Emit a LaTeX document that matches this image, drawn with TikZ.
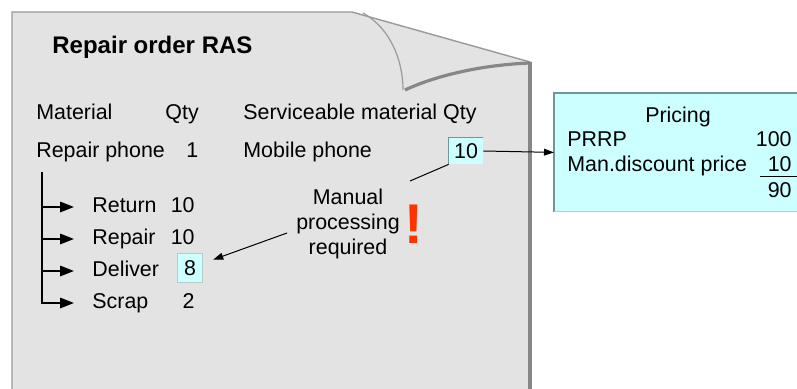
\documentclass[tikz,border=0pt]{standalone}
\usepackage{fontspec}
\setmainfont{Liberation Sans}
\usetikzlibrary{arrows.meta}
\definecolor{pagefill}{HTML}{E3E3E3}
\definecolor{pageedge}{HTML}{9A9A9A}
\definecolor{pageshadow}{HTML}{878787}
\definecolor{cyanfill}{HTML}{CCFFFF}
\definecolor{cyanedge}{HTML}{6F9797}
\definecolor{alertred}{HTML}{FF3300}
\begin{document}
\begin{tikzpicture}[x=0.5pt,y=-0.5pt,
  txt/.style={font=\fontsize{10.7}{12.5}\selectfont, inner sep=0pt, anchor=base west},
  rtxt/.style={txt, anchor=base east},
  ttl/.style={font=\fontsize{12}{14}\selectfont\bfseries, inner sep=0pt, anchor=base west},
  qbox/.style={fill=cyanfill, font=\fontsize{10.7}{12.5}\selectfont, inner sep=0pt},
  treearrow/.style={line width=1pt, -{Triangle[length=7pt,width=5.2pt]}},
  thinarrow/.style={line width=0.5pt, -{Triangle[length=5pt,width=3.4pt]}},
  thinline/.style={line width=0.5pt}]
\clip (0,0) rectangle (797,389);
\fill[white] (0,0) rectangle (797,389);
% page with folded corner
\filldraw[fill=pagefill, draw=pageedge, line width=0.7pt]
  (12,400) -- (12,12) -- (352,12) -- (530,62) -- (530,400);
\draw[pageshadow, line width=1.6pt] (530,62) -- (530,400);
\draw[pageedge, line width=0.6pt] (363,13) .. controls (390,28) and (403,60) .. (403,90);
\draw[pageshadow, line width=1.6pt] (405,90) .. controls (435,76) and (480,65) .. (530,63);

% title and headers
\node[ttl] (title) at (52,54) {Repair order RAS};
\node[txt] (matl) at (36,120) {Material};
\node[txt] (qtyh) at (165,120) {Qty};
\node[txt] (servh) at (243,120) {Serviceable material Qty};
\node[txt] (rphone) at (36,158) {Repair phone};
\node[txt] (rqty) at (186,158) {1};
\node[txt] (mphone) at (243,158) {Mobile phone};
\node[qbox, minimum width=17pt, minimum height=13pt] (box10) at (466,151) {10};
\draw[cyanedge, line width=0.8pt] (box10.south west) -- (box10.north west) -- (box10.north east);

% tree
\coordinate (treetop) at (42,172);
\coordinate (t1) at (42,207);
\coordinate (t2) at (42,239);
\coordinate (t3) at (42,271);
\coordinate (a1) at (74,207);
\coordinate (a2) at (74,239);
\coordinate (a3) at (74,271);
\coordinate (a4) at (74,303);
\draw[treearrow] (treetop) |- (a4);
\draw[treearrow] (t1) -- (a1);
\draw[treearrow] (t2) -- (a2);
\draw[treearrow] (t3) -- (a3);

\node[txt] (ret) at (92,213) {Return};
\node[rtxt] (retq) at (195,213) {10};
\node[txt] (rep) at (92,245) {Repair};
\node[rtxt] (repq) at (195,245) {10};
\node[txt] (del) at (92,277) {Deliver};
\node[qbox, minimum width=12.5pt, minimum height=14pt] (delbox) at (190,268) {8};
\draw[cyanedge!50, line width=0.5pt] (delbox.south west) rectangle (delbox.north east);
\node[txt] (scr) at (92,309) {Scrap};
\node[rtxt] (scrq) at (195,309) {2};

% manual processing note
\node[font=\fontsize{10.7}{12.5}\selectfont, align=center, inner sep=0pt] (manual) at (348,224)
  {Manual\\processing\\required};
\node[font=\fontsize{28}{30}\selectfont\bfseries, text=alertred, inner sep=0pt] (bang) at (414,224) {!};
\coordinate (c1) at (410,181);
\coordinate (c2) at (287,233);
\draw[thinline] (box10.south west) -- (c1);
\draw[thinarrow, shorten >=5.5pt] (c2) -- (delbox);

% pricing box
\node[fill=cyanfill, anchor=north west, minimum width=125pt, minimum height=59pt, inner sep=0pt] (pricing) at (554,93) {};
\draw[cyanedge, line width=0.8pt] (pricing.south west) -- (pricing.north west) -- (pricing.north east);
\draw[gray!45, line width=0.6pt] (pricing.south west) -- (pricing.south east);
\node[txt, anchor=base] (prtitle) at (678,123) {Pricing};
\node[txt] (prrp) at (567,147) {PRRP};
\node[rtxt] (prrpv) at (792,147) {100};
\node[txt] (mdp) at (567,172) {Man.discount price};
\node[rtxt] (mdpv) at (792,172) {10};
\coordinate (ul1) at (760,177);
\coordinate (ul2) at (797,177);
\draw[thinline] (ul1) -- (ul2);
\node[rtxt] (net) at (792,198) {90};

\draw[thinarrow] (box10.east) -- (pricing.west);
\end{tikzpicture}
\end{document}
